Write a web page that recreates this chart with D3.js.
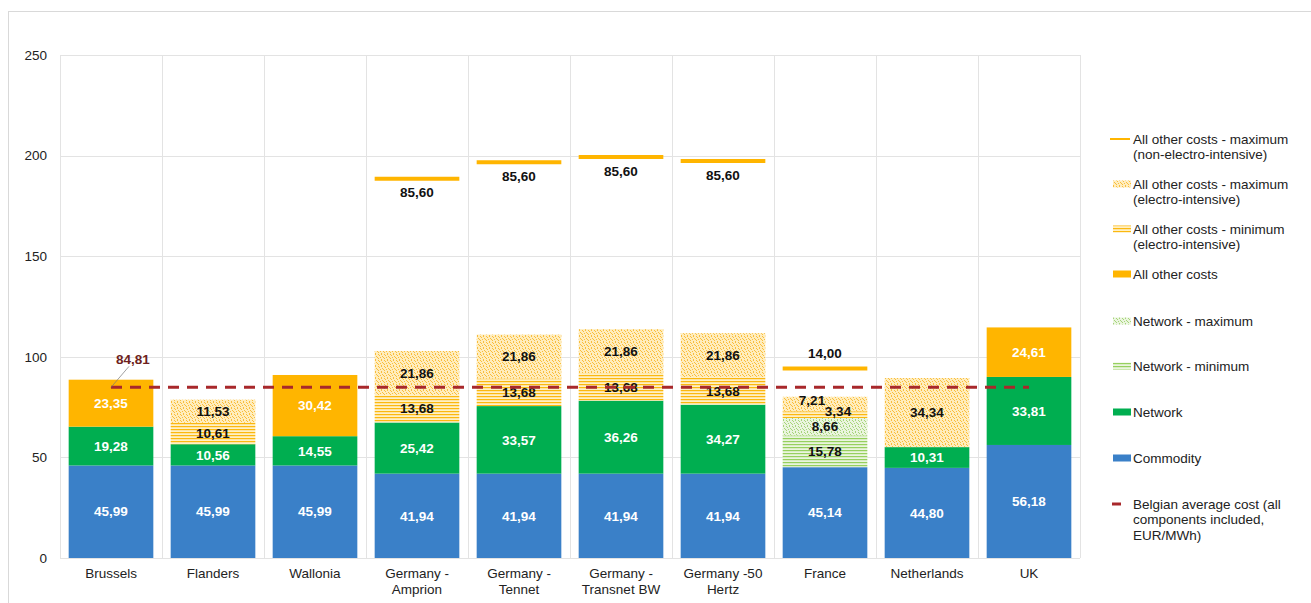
<!DOCTYPE html>
<html>
<head>
<meta charset="utf-8">
<script src="https://cdn.jsdelivr.net/npm/d3@7"></script>
<style>
  html, body { margin: 0; padding: 0; background: #fff; }
  svg text { font-family: "Liberation Sans", Arial, sans-serif; }
</style>
</head>
<body>
<svg id="chart" width="1311" height="603"></svg>
<script>
// Electricity cost components per region (EUR/MWh)
const categories = ["Brussels", "Flanders", "Wallonia", "Germany - Amprion", "Germany - Tennet",
  "Germany - Transnet BW", "Germany -50 Hertz", "France", "Netherlands", "UK"];
const categoryLines = [["Brussels"], ["Flanders"], ["Wallonia"], ["Germany -", "Amprion"], ["Germany -", "Tennet"],
  ["Germany -", "Transnet BW"], ["Germany -50", "Hertz"], ["France"], ["Netherlands"], ["UK"]];

const commodity   = [45.99, 45.99, 45.99, 41.94, 41.94, 41.94, 41.94, 45.14, 44.80, 56.18];
const network     = [19.28, 10.56, 14.55, 25.42, 33.57, 36.26, 34.27, 0, 10.31, 33.81];
const networkMin  = [0, 0, 0, 0, 0, 0, 0, 15.78, 0, 0];
const networkMax  = [0, 0, 0, 0, 0, 0, 0, 8.66, 0, 0];
const otherCosts  = [23.35, 0, 30.42, 0, 0, 0, 0, 0, 0, 24.61];
const otherMinEI  = [0, 10.61, 0, 13.68, 13.68, 13.68, 13.68, 3.34, 0, 0];
const otherMaxEI  = [0, 11.53, 0, 21.86, 21.86, 21.86, 21.86, 7.21, 34.34, 0];
const otherMaxNonEI = [null, null, null, 85.60, 85.60, 85.60, 85.60, 14.00, null, null];
const belgianAverage = 84.81;

const yTicks = [0, 50, 100, 150, 200, 250];

const svg = d3.select("#chart");
const plot = { left: 60, top: 55, right: 1080, bottom: 558 };

// Patterns for the min / max hatched segments
const defs = svg.append("defs");
const speckle = [[0, 0], [3, 0], [1, 1], [4, 2], [2, 3], [5, 3], [0, 4], [3, 5]];
function dotPattern(id, bg, dot) {
  const p = defs.append("pattern").attr("id", id).attr("patternUnits", "userSpaceOnUse")
    .attr("width", 6).attr("height", 6);
  p.append("rect").attr("width", 6).attr("height", 6).attr("fill", bg);
  speckle.forEach(([px, py]) =>
    p.append("rect").attr("x", px).attr("y", py).attr("width", 1).attr("height", 1).attr("fill", dot));
}
function stripePattern(id, bg, line) {
  const p = defs.append("pattern").attr("id", id).attr("patternUnits", "userSpaceOnUse")
    .attr("width", 4).attr("height", 3);
  p.append("rect").attr("width", 4).attr("height", 3).attr("fill", bg);
  p.append("rect").attr("y", 0).attr("width", 4).attr("height", 1.2).attr("fill", line);
}
dotPattern("orangeDots", "#ffedbd", "#f9bd3c");
stripePattern("orangeStripes", "#fff0c4", "#fbb810");
dotPattern("greenDots", "#eaf5de", "#a6d47a");
stripePattern("greenStripes", "#eaf5de", "#96d05e");

const colors = {
  commodity: "#3a80c8",
  network: "#00ae50",
  other: "#ffb500",
  avg: "#a8282b"
};

const series = [
  { key: "commodity", values: commodity, fill: colors.commodity, text: "#fff" },
  { key: "network", values: network, fill: colors.network, text: "#fff" },
  { key: "networkMin", values: networkMin, fill: "url(#greenStripes)", text: "#111" },
  { key: "networkMax", values: networkMax, fill: "url(#greenDots)", text: "#111" },
  { key: "otherCosts", values: otherCosts, fill: colors.other, text: "#fff" },
  { key: "otherMinEI", values: otherMinEI, fill: "url(#orangeStripes)", text: "#111" },
  { key: "otherMaxEI", values: otherMaxEI, fill: "url(#orangeDots)", text: "#111" }
];

const table = categories.map((c, i) => {
  const row = { category: c };
  series.forEach(s => row[s.key] = s.values[i]);
  return row;
});
const stacked = d3.stack().keys(series.map(s => s.key))(table);

const x = d3.scaleBand().domain(categories).range([plot.left, plot.right]).paddingInner(0.17).paddingOuter(0.085);
const xCell = d3.scaleBand().domain(categories).range([plot.left, plot.right]);
const y = d3.scaleLinear().domain([0, 250]).range([plot.bottom, plot.top]);

// Outer frame
svg.append("rect").attr("x", 8.5).attr("y", 11.5).attr("width", 1320).attr("height", 620)
  .attr("fill", "none").attr("stroke", "#d9d9d9");

// Gridlines
const grid = svg.append("g");
grid.selectAll("line.h").data(yTicks).join("line")
  .attr("x1", plot.left).attr("x2", plot.right)
  .attr("y1", d => Math.round(y(d)) + 0.5).attr("y2", d => Math.round(y(d)) + 0.5)
  .attr("stroke", "#e3e3e3");
grid.selectAll("line.v").data(categories).join("line")
  .attr("x1", d => Math.round(xCell(d)) + 0.5).attr("x2", d => Math.round(xCell(d)) + 0.5)
  .attr("y1", plot.top).attr("y2", plot.bottom)
  .attr("stroke", "#e3e3e3");
grid.append("line").attr("x1", plot.right + 0.5).attr("x2", plot.right + 0.5)
  .attr("y1", plot.top).attr("y2", plot.bottom).attr("stroke", "#e3e3e3");

// Y axis labels
const yAxis = svg.append("g").attr("transform", `translate(${plot.left},0)`)
  .call(d3.axisLeft(y).tickValues(yTicks).tickSize(0).tickPadding(13));
yAxis.select(".domain").remove();
yAxis.selectAll("text").attr("font-size", 13.5).attr("fill", "#222")
  .attr("font-family", "Liberation Sans, Arial, sans-serif");

// X axis labels
const xAxis = svg.append("g").attr("transform", `translate(0,${plot.bottom})`)
  .call(d3.axisBottom(x).tickSize(0).tickFormat(() => ""));
xAxis.select(".domain").remove();
xAxis.selectAll(".tick").each(function (d, i) {
  const t = d3.select(this).select("text").text(null)
    .attr("font-size", 13.5).attr("fill", "#222").attr("y", 0).attr("dy", null)
    .attr("font-family", "Liberation Sans, Arial, sans-serif");
  categoryLines[i].forEach((ln, k) =>
    t.append("tspan").attr("x", 0).attr("y", 20 + k * 16).text(ln));
});

const fmt = v => d3.format(".2f")(v).replace(".", ",");

// Stacked bars
const layers = svg.append("g").selectAll("g").data(stacked).join("g")
  .attr("fill", (d, i) => series[i].fill);
layers.selectAll("rect").data(d => d.map(p => ({ p, cat: p.data.category }))).join("rect")
  .attr("x", d => x(d.cat))
  .attr("width", x.bandwidth())
  .attr("y", d => y(d.p[1]))
  .attr("height", d => Math.max(0, y(d.p[0]) - y(d.p[1])));

// Segment value labels (the two thin French segments are pushed apart)
const labelNudge = {
  "France|otherMinEI": [13, -3],
  "France|otherMaxEI": [-13, -4]
};
stacked.forEach((layer, si) => {
  svg.append("g").selectAll("text").data(layer.filter(p => p[1] - p[0] > 0)).join("text")
    .attr("x", p => x(p.data.category) + x.bandwidth() / 2 + ((labelNudge[p.data.category + "|" + layer.key] || [0, 0])[0]))
    .attr("y", p => y((p[0] + p[1]) / 2) + ((labelNudge[p.data.category + "|" + layer.key] || [0, 0])[1]))
    .attr("dy", "0.35em")
    .attr("text-anchor", "middle")
    .attr("font-size", 13.5).attr("font-weight", "bold")
    .attr("fill", series[si].text)
    .text(p => fmt(p[1] - p[0]));
});

// Maximum (non-electro-intensive) markers stacked above each bar
const topLayer = stacked[stacked.length - 1];
const markers = categories.map((c, i) => ({ c, base: topLayer[i][1], v: otherMaxNonEI[i] })).filter(d => d.v != null);
svg.append("g").selectAll("line").data(markers).join("line")
  .attr("x1", d => x(d.c)).attr("x2", d => x(d.c) + x.bandwidth())
  .attr("y1", d => y(d.base + d.v)).attr("y2", d => y(d.base + d.v))
  .attr("stroke", colors.other).attr("stroke-width", 4);
svg.append("g").selectAll("text").data(markers).join("text")
  .attr("x", d => x(d.c) + x.bandwidth() / 2)
  .attr("y", d => y(d.base + d.v) + (d.c === "France" ? -15 : 14))
  .attr("dy", "0.35em").attr("text-anchor", "middle")
  .attr("font-size", 13.5).attr("font-weight", "bold").attr("fill", "#111")
  .text(d => fmt(d.v));

// Belgian average cost reference line
const firstC = x(categories[0]) + x.bandwidth() / 2;
const lastC = x(categories[categories.length - 1]) + x.bandwidth() / 2;
svg.append("line")
  .attr("x1", firstC).attr("x2", lastC)
  .attr("y1", y(belgianAverage)).attr("y2", y(belgianAverage))
  .attr("stroke", colors.avg).attr("stroke-width", 3).attr("stroke-dasharray", "11,8");
svg.append("line")
  .attr("x1", firstC).attr("y1", y(belgianAverage))
  .attr("x2", firstC + 18).attr("y2", y(belgianAverage) - 21)
  .attr("stroke", "#777").attr("stroke-width", 0.7);
svg.append("text")
  .attr("x", firstC + 22).attr("y", y(belgianAverage) - 28)
  .attr("dy", "0.35em").attr("text-anchor", "middle")
  .attr("font-size", 13.5).attr("font-weight", "bold").attr("fill", "#6e1f20")
  .text(fmt(belgianAverage));

// Legend
const legend = svg.append("g");
const legendItems = [
  { type: "line", color: colors.other, y: 139, lines: ["All other costs - maximum", "(non-electro-intensive)"] },
  { type: "rect", fill: "url(#orangeDots)", y: 184, lines: ["All other costs - maximum", "(electro-intensive)"] },
  { type: "rect", fill: "url(#orangeStripes)", y: 229, lines: ["All other costs - minimum", "(electro-intensive)"] },
  { type: "rect", fill: colors.other, y: 274, lines: ["All other costs"] },
  { type: "rect", fill: "url(#greenDots)", y: 321, lines: ["Network - maximum"] },
  { type: "rect", fill: "url(#greenStripes)", y: 366, lines: ["Network - minimum"] },
  { type: "rect", fill: colors.network, y: 412, lines: ["Network"] },
  { type: "rect", fill: colors.commodity, y: 458, lines: ["Commodity"] },
  { type: "dash", color: colors.avg, y: 504, lines: ["Belgian average cost (all", "components included,", "EUR/MWh)"] }
];
legendItems.forEach(it => {
  const g = legend.append("g");
  if (it.type === "line") {
    g.append("line").attr("x1", 1110).attr("x2", 1130).attr("y1", it.y).attr("y2", it.y)
      .attr("stroke", it.color).attr("stroke-width", 2);
  } else if (it.type === "rect") {
    g.append("rect").attr("x", 1113).attr("y", it.y - 3.5).attr("width", 18).attr("height", 7).attr("fill", it.fill);
  } else {
    g.append("line").attr("x1", 1112).attr("x2", 1121).attr("y1", it.y).attr("y2", it.y)
      .attr("stroke", it.color).attr("stroke-width", 3);
  }
  it.lines.forEach((ln, k) =>
    g.append("text").attr("x", 1133).attr("y", it.y + k * 15.5).attr("dy", "0.35em")
      .attr("font-size", 13.5).attr("fill", "#222").text(ln));
});
</script>
</body>
</html>
